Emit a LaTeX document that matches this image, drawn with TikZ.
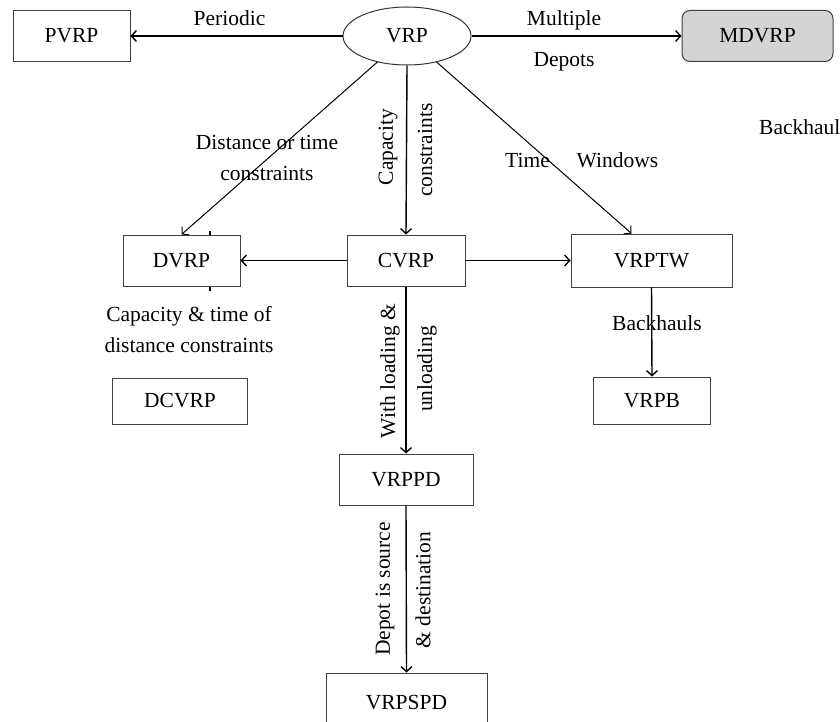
\documentclass[tikz,border=0pt]{standalone}
\usepackage{fontspec}
\setmainfont{Liberation Serif}
\usepackage{tikz}
\usetikzlibrary{shapes.geometric}
\usetikzlibrary{arrows.meta}
\usetikzlibrary{positioning}

\begin{document}
\begin{tikzpicture}[x=1pt, y=-1pt,
  font=\fontsize{21.5}{31}\selectfont,
  >={Straight Barb[length=5pt, width=11pt]},
  box/.style={draw=black!75, line width=1pt, fill=white, inner sep=0pt},
  link/.style={->, line width=1.4pt},
  slant/.style={->, line width=1pt}]
\clip (0,0) rectangle (840,722);
% root
\node (vrp) [ellipse, draw=black!80, line width=1pt, minimum width=128pt, minimum height=58pt, inner sep=0pt] at (407,36) {VRP};
% first row
\node (pvrp) [box, minimum width=117pt, minimum height=51pt] at (71.5,36) {PVRP};
\node (mdvrp) [box, fill=black!17, rounded corners=8pt, minimum width=151pt, minimum height=51pt] at (757.5,36) {MDVRP};
% second row
\coordinate (tickA) at (210,231);
\coordinate (tickB) at (210,291);
\draw [line width=1.4pt] (tickA) -- (tickB);
\node (dvrp) [box, minimum width=117pt, minimum height=51pt] at (181.5,260.5) {DVRP};
\node (cvrp) [box, minimum width=118pt, minimum height=51pt] at (406,260.5) {CVRP};
\node (vrptw) [box, minimum width=161pt, minimum height=53pt] at (651.5,260.5) {VRPTW};
% third row
\node (dcvrp) [box, minimum width=135pt, minimum height=46pt] at (180,401) {DCVRP};
\node (vrpb) [box, minimum width=117pt, minimum height=47pt] at (652,400.5) {VRPB};
% bottom
\node (vrppd) [box, minimum width=134pt, minimum height=51pt] at (406,479.5) {VRPPD};
\node (vrpspd) [box, minimum width=161pt, minimum height=60pt] at (406.5,703) {VRPSPD};
% arrows
\draw [link] (vrp.west) -- (pvrp.east);
\draw [link] (vrp.east) -- (mdvrp.west);
\draw [slant] (vrp) -- (dvrp.north);
\draw [slant] (vrp) -- ([xshift=61pt]vrptw.north west);
\draw [link] (vrp.south) -- (cvrp.north);
\draw [link] (cvrp.west) -- (dvrp.east);
\draw [link] (cvrp.east) -- (vrptw.west);
\draw [link] (vrptw.south) -- (vrpb.north);
\draw [link] (cvrp.south) -- (vrppd.north);
\draw [link] (vrppd.south) -- (vrpspd.north);
% labels
\node (periodic) at (229.5,18) {Periodic};
\node (multiple) at (564,20) {Multiple};
\node (depots) at (564,62) {Depots};
\node (distlbl) [align=center] at (267,157.5) {Distance or time\\constraints};
\node (timelbl) at (527.5,160) {Time};
\node (windows) at (617.5,160) {Windows};
\node (backhaul) [anchor=west, inner sep=0pt] at (759,127) {Backhaul};
\node (capdist) [align=center] at (189,330) {Capacity \& time of\\distance constraints};
\node (backhauls) at (657,323) {Backhauls};
\node (capacity) [rotate=90] at (388,147) {Capacity};
\node (constr) [rotate=90] at (425,150) {constraints};
\node (loading) [rotate=90] at (390,371) {With loading \&};
\node (unloading) [rotate=90] at (427,369) {unloading};
\node (source) [rotate=90] at (385,589) {Depot is source};
\node (dest) [rotate=90] at (423,590) {\& destination};
\end{tikzpicture}
\end{document}
